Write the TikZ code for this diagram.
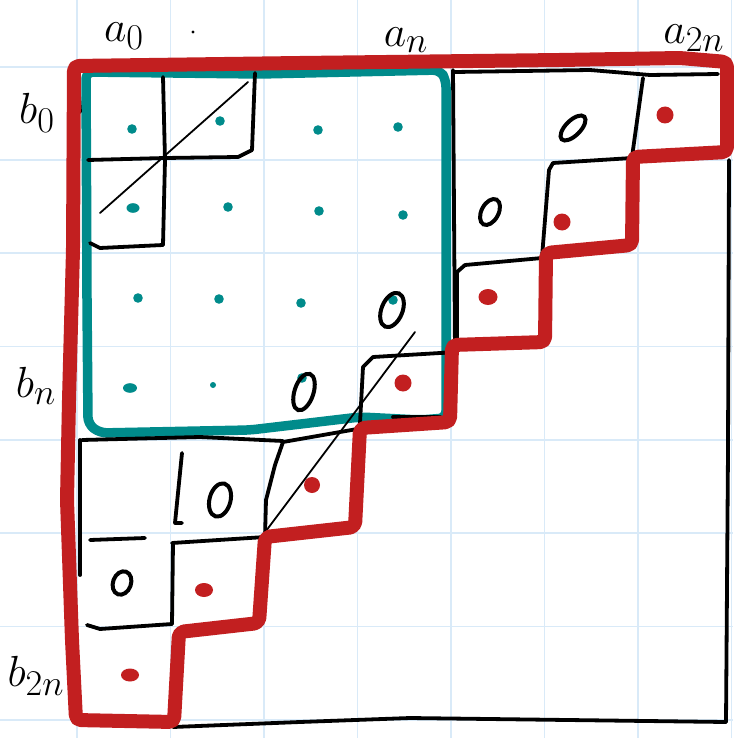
\documentclass[tikz,border=0pt]{standalone}
\usepackage{graphicx}
\definecolor{gridblue}{RGB}{217,234,248}
\definecolor{penred}{RGB}{194,31,32}
\definecolor{penteal}{RGB}{0,139,139}
\newcommand{\biglbl}[1]{\scalebox{1.75}{\Huge$#1$}}
\tikzset{
 gridline/.style={gridblue, line width=1.8pt},
 redpen/.style={penred, line width=14pt, line join=round, line cap=round, rounded corners=5pt},
 tealpen/.style={penteal, line width=9.5pt, line join=round, line cap=round, rounded corners=7pt},
 blackpen/.style={black, line width=3.8pt, line join=round, line cap=round},
 thinpen/.style={black, line width=1.8pt, line cap=round},
 zero/.style={black, line width=4pt},
 reddot/.style={fill=penred},
 tealdot/.style={fill=penteal},
 lbl/.style={inner sep=0pt}
}
\begin{document}
\begin{tikzpicture}[x=1pt,y=-1pt]
\useasboundingbox (0,0) rectangle (733,738);
\fill[white] (0,0) rectangle (733,738);
% grid paper
\foreach \gx in {77,170.5,264,357.5,451,544.5,638,731.5} \draw[gridline] (\gx,0) -- (\gx,738);
\foreach \gy in {67,160,253,346.5,440,533,626.5,720} \draw[gridline] (0,\gy) -- (733,\gy);

% labels
\node[lbl] (la0) at (124,36) {\biglbl{a_0}};
\node[lbl] (lan) at (406,40) {\biglbl{a_n}};
\node[lbl] (la2n) at (694,38) {\biglbl{a_{2n}}};
\node[lbl] (lb0) at (37,113) {\biglbl{b_0}};
\node[lbl] (lbn) at (36,386) {\biglbl{b_n}};
\node[lbl] (lb2n) at (36,676) {\biglbl{b_{2n}}};
\fill (193,32) circle (1.6pt);

% teal dots
\foreach \p in {(132,129),(220,121),(318,130),(398,127),
                (228,207),(319,211),(403,215),
                (138,298),(219,299),(301,303),(393,300),
                (302,378)}
  \fill[tealdot] \p circle (4.8pt);
\fill[tealdot] (133,208) ellipse (6.5pt and 4.8pt);
\fill[tealdot] (130,388) ellipse (7pt and 4.8pt);
\fill[tealdot] (213,385) circle (3pt);

% teal block
\draw[tealpen] (86,72) -- (260,74) -- (440,70) -- (446,80) -- (446,418)
   -- (420,420) -- (360,417) -- (250,430) -- (100,433) -- (88,424) -- (87,300) -- cycle;

% black cell strokes, top-left
\draw[blackpen] (163,77) -- (165,160) -- (163,245);
\draw[blackpen] (88,160) -- (165,158) -- (238,157) -- (252,150) -- (255,73);
\draw[blackpen] (90,243) -- (100,248) -- (163,245);
\draw[blackpen] (79,95) -- (80,112);
\draw[thinpen] (100,213) -- (248,82);

% black, upper-right block
\draw[blackpen] (455,72) -- (590,70) -- (650,75) -- (718,74);
\draw[blackpen] (643,78) -- (632,157);
\draw[blackpen] (632,158) -- (553,163) -- (549,170) -- (542,257);
\draw[blackpen] (542,258) -- (465,265) -- (457,272) -- (457,350);
\draw[blackpen] (453,70) -- (455,352) -- (440,353);

% outer right and bottom
\draw[blackpen] (729,160) -- (728,450) -- (726,722);
\draw[blackpen] (173,727) -- (300,722) -- (410,718) -- (726,722);

% black, middle
\draw[blackpen] (457,352) -- (373,357) -- (363,367) -- (360,423) -- (366,428);
\draw[blackpen] (393,417) -- (440,417);
\draw[blackpen] (363,428) -- (283,442) -- (275,465) -- (266,500) -- (265,537);
\draw[thinpen] (263,535) -- (415,332);

% black, lower-left block
\draw[blackpen] (82,440) -- (200,437) -- (283,441);
\draw[blackpen] (182,453) -- (175,523) -- (182,523);
\draw[blackpen] (90,540) -- (145,538);
\draw[blackpen] (172,543) -- (265,537);
\draw[blackpen] (173,543) -- (172,624);
\draw[blackpen] (87,625) -- (100,629) -- (172,624);
\draw[blackpen] (80,440) -- (80,575);

% zeros
\draw[zero, rotate around={45:(573,128)}] (573,128) ellipse (16pt and 7.5pt);
\draw[zero, rotate around={62:(490,212)}] (490,212) ellipse (14pt and 8.5pt);
\draw[zero, rotate around={68:(392,310)}] (392,310) ellipse (18pt and 10.5pt);
\draw[zero, rotate around={72:(304,392)}] (304,392) ellipse (19pt and 9.5pt);
\draw[zero, rotate around={75:(220,500)}] (220,500) ellipse (17pt and 10.5pt);
\draw[zero, rotate around={70:(122,583)}] (122,583) ellipse (12pt and 9pt);

% red staircase
\draw[redpen] (74,66) -- (300,63) -- (560,60) -- (680,58) -- (727,62) -- (727,152)
  -- (633,157) -- (632,245) -- (546,253) -- (545,342) -- (452,345) -- (450,422)
  -- (360,428) -- (355,527) -- (265,537) -- (259,623) -- (179,632) -- (174,722)
  -- (76,720) -- (72,640) -- (67,500) -- (69,400) -- (73,250) -- cycle;

% red dots
\fill[reddot] (665,115) circle (8.5pt);
\fill[reddot] (562,222) circle (8.5pt);
\fill[reddot] (488,297) ellipse (9.5pt and 8pt);
\fill[reddot] (403,383) circle (8.5pt);
\fill[reddot] (312,485) circle (8pt);
\fill[reddot] (204,590) ellipse (9pt and 7pt);
\fill[reddot] (130,675) ellipse (9pt and 6.5pt);
\end{tikzpicture}
\end{document}
